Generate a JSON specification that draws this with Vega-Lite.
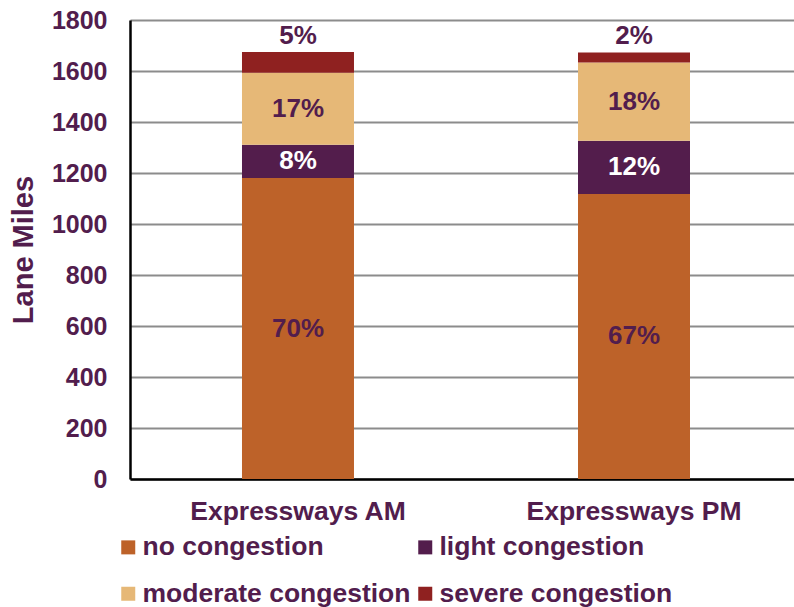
{
  "$schema": "https://vega.github.io/schema/vega-lite/v6.json",
  "width": 664,
  "height": 459,
  "autosize": "none",
  "padding": {"left": 130, "top": 20, "right": 0, "bottom": 128},
  "background": "white",
  "config": {
    "font": "Liberation Sans",
    "view": {"stroke": null},
    "axis": {"labelFont": "Liberation Sans", "titleFont": "Liberation Sans"}
  },
  "data": {
    "values": [
      {"period": "Expressways AM", "congestion": "no congestion", "miles": 1180, "label": "70%"},
      {"period": "Expressways AM", "congestion": "light congestion", "miles": 131, "label": "8%"},
      {"period": "Expressways AM", "congestion": "moderate congestion", "miles": 282, "label": "17%"},
      {"period": "Expressways AM", "congestion": "severe congestion", "miles": 82, "label": "5%"},
      {"period": "Expressways PM", "congestion": "no congestion", "miles": 1118, "label": "67%"},
      {"period": "Expressways PM", "congestion": "light congestion", "miles": 208, "label": "12%"},
      {"period": "Expressways PM", "congestion": "moderate congestion", "miles": 307, "label": "18%"},
      {"period": "Expressways PM", "congestion": "severe congestion", "miles": 40, "label": "2%"}
    ]
  },
  "transform": [
    {"calculate": "indexof(['no congestion','light congestion','moderate congestion','severe congestion'], datum.congestion)", "as": "rank"},
    {"stack": "miles", "groupby": ["period"], "sort": [{"field": "rank", "order": "ascending"}], "as": ["s0", "s1"]},
    {"calculate": "(datum.s0 + datum.s1) / 2", "as": "mid"}
  ],
  "encoding": {
    "x": {
      "field": "period",
      "type": "nominal",
      "sort": ["Expressways AM", "Expressways PM"],
      "scale": {"paddingInner": 0.6667, "paddingOuter": 0.3214, "align": 0.5185},
      "axis": {
        "title": null,
        "labelAngle": 0,
        "labelFontSize": 26.5,
        "labelFontWeight": "bold",
        "labelColor": "#521D4D",
        "labelPadding": 19,
        "labelLimit": 400,
        "ticks": false,
        "tickSize": 0,
        "domainColor": "#000000",
        "domainWidth": 2.5
      }
    }
  },
  "layer": [
    {
      "mark": {"type": "bar"},
      "encoding": {
        "y": {
          "field": "s0",
          "type": "quantitative",
          "scale": {"domain": [0, 1800], "nice": false},
          "axis": {
            "title": "Lane Miles",
            "titleFontSize": 29,
            "titleFontWeight": "bold",
            "titleColor": "#521D4D",
            "titlePadding": 13,
            "values": [0, 200, 400, 600, 800, 1000, 1200, 1400, 1600, 1800],
            "format": "d",
            "labelFontSize": 25,
            "labelFontWeight": "bold",
            "labelColor": "#521D4D",
            "labelPadding": 23,
            "ticks": false,
            "tickSize": 0,
            "grid": true,
            "gridColor": "#8C8C8C",
            "gridWidth": 2,
            "domainColor": "#000000",
            "domainWidth": 2.5
          }
        },
        "y2": {"field": "s1"},
        "color": {
          "field": "congestion",
          "type": "nominal",
          "scale": {
            "domain": ["no congestion", "light congestion", "moderate congestion", "severe congestion"],
            "range": ["#BD6229", "#531D4C", "#E6B877", "#8F2120"]
          },
          "legend": {
            "title": null,
            "orient": "none",
            "direction": "horizontal",
            "legendX": -15,
            "legendY": 514,
            "columns": 2,
            "columnPadding": 1,
            "rowPadding": 19.5,
            "padding": 0,
            "symbolType": "square",
            "symbolSize": 196,
            "symbolStrokeWidth": 0,
            "labelFontSize": 26.5,
            "labelFontWeight": "bold",
            "labelColor": "#521D4D",
            "labelOffset": 1,
            "labelLimit": 400
          }
        }
      }
    },
    {
      "transform": [{"filter": "datum.congestion !== 'severe congestion'"}],
      "mark": {"type": "text", "fontSize": 26, "fontWeight": "bold", "baseline": "middle", "align": "center"},
      "encoding": {
        "y": {"field": "mid", "type": "quantitative"},
        "text": {"field": "label"},
        "color": {
          "condition": {"test": "datum.congestion === 'light congestion'", "value": "#FFFFFF"},
          "value": "#521D4D"
        }
      }
    },
    {
      "transform": [{"filter": "datum.congestion === 'severe congestion'"}],
      "mark": {"type": "text", "fontSize": 26, "fontWeight": "bold", "baseline": "alphabetic", "align": "center", "dy": -8, "color": "#521D4D"},
      "encoding": {
        "y": {"field": "s1", "type": "quantitative"},
        "text": {"field": "label"}
      }
    }
  ]
}
